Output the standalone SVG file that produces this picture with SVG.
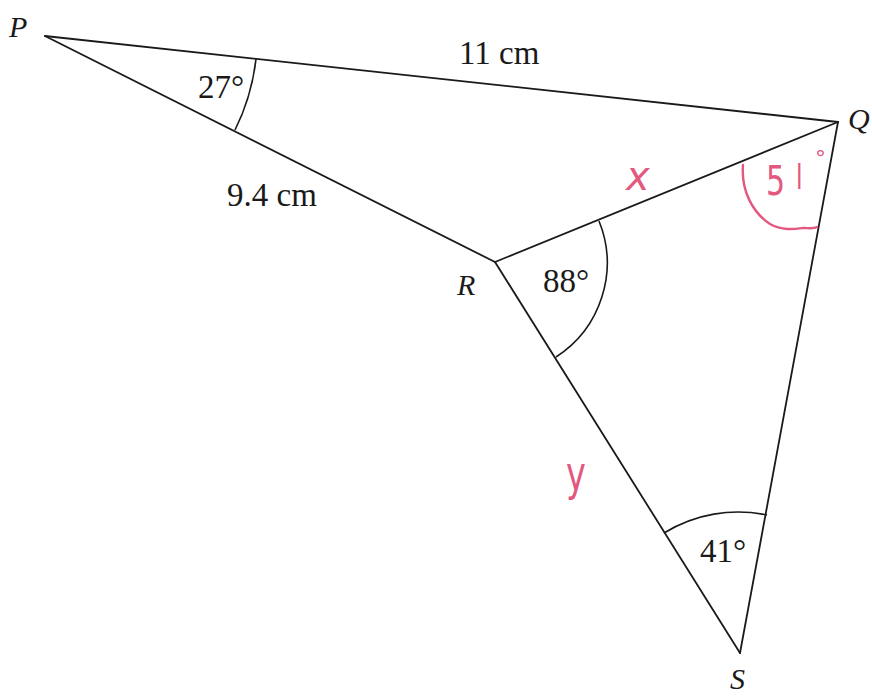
<svg xmlns="http://www.w3.org/2000/svg" width="872" height="697" viewBox="0 0 872 697">
<style>
.edge{stroke:#1a1a1a;stroke-width:1.8;fill:none;stroke-linecap:round;stroke-linejoin:round}
.arc{stroke:#1a1a1a;stroke-width:1.6;fill:none}
.lbl{font-family:"Liberation Serif","Times New Roman",serif;font-size:33px;fill:#1a1a1a}
.pt{font-family:"Liberation Serif","Times New Roman",serif;font-style:italic;font-size:30px;fill:#1a1a1a}
.pink{fill:#e2587f;font-family:"DejaVu Sans","Liberation Sans",sans-serif}
.pinkline{stroke:#e2587f;stroke-width:2.4;fill:none;stroke-linecap:round}
</style>
<rect width="872" height="697" fill="#ffffff"/>
<g id="connectors">
<line class="edge" x1="45" y1="36" x2="838" y2="122"/>
<line class="edge" x1="45" y1="36" x2="495" y2="262"/>
<line class="edge" x1="495" y1="262" x2="838" y2="122"/>
<line class="edge" x1="495" y1="262" x2="740" y2="653"/>
<line class="edge" x1="838" y1="122" x2="740" y2="653"/>
</g>
<g id="angle-P">
<path class="arc" d="M256,59 A212,212 0 0 1 235,130"/>
<text class="lbl" x="198" y="98">27°</text>
</g>
<g id="angle-R">
<path class="arc" d="M599,221 A112,112 0 0 1 556,357"/>
<text class="lbl" x="543" y="292">88°</text>
</g>
<g id="angle-S">
<path class="arc" d="M664,533 A141,141 0 0 1 767,515"/>
<text class="lbl" x="700" y="562">41°</text>
</g>
<g id="angle-Q">
<path class="pinkline" d="M743,165 C741,190 752,212 770,224 C782,231 795,229 803,228 C809,228 814,229 817,227"/>
<text class="pink" x="766" y="195" font-size="40" transform="translate(766 0) scale(0.75 1) translate(-766 0)">5</text>
<text class="pink" x="796" y="189" font-size="34" transform="translate(796 0) scale(0.7 1) translate(-796 0)">l</text>
<text class="pink" x="815" y="166" font-size="22">°</text>
</g>
<g id="side-labels">
<text class="lbl" x="459" y="64">11 cm</text>
<text class="lbl" x="227" y="206">9.4 cm</text>
<text class="pink" x="626" y="190" font-size="40" font-style="italic">x</text>
<text class="pink" x="566" y="490" font-size="48" transform="translate(566 0) scale(0.7 1) translate(-566 0)">y</text>
</g>
<g id="vertex-P"><text class="pt" x="9" y="37">P</text></g>
<g id="vertex-Q"><text class="pt" x="848" y="129">Q</text></g>
<g id="vertex-R"><text class="pt" x="457" y="295">R</text></g>
<g id="vertex-S"><text class="pt" x="730" y="689">S</text></g>
</svg>
